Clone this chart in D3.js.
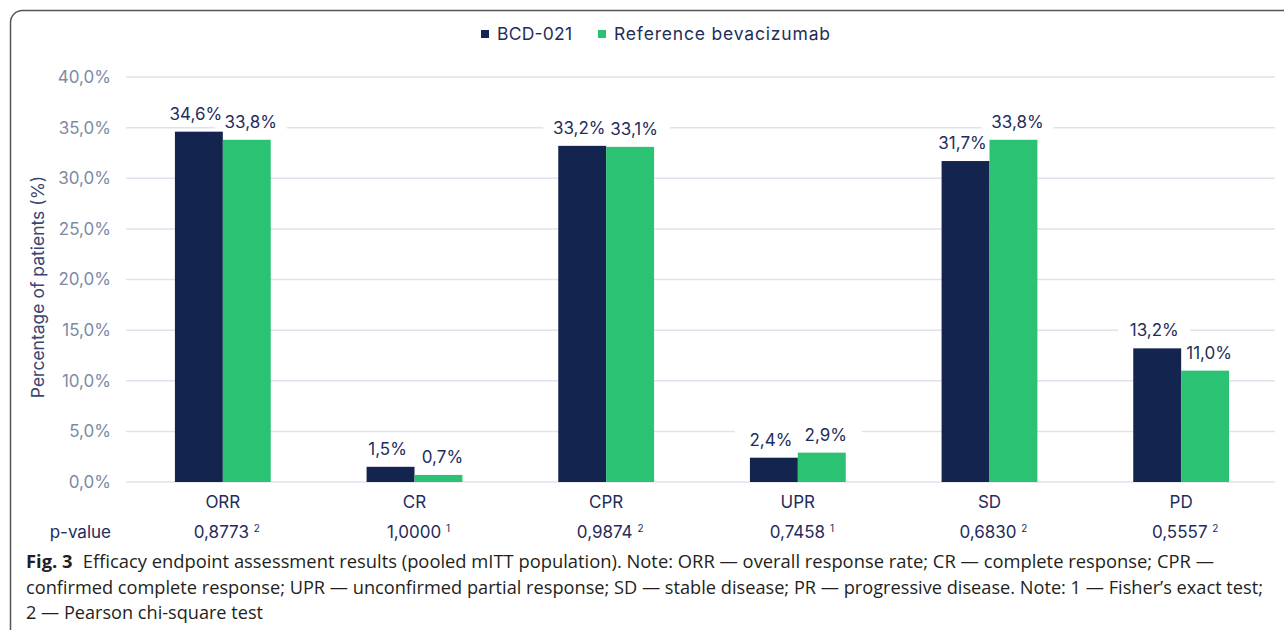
<!DOCTYPE html>
<html><head><meta charset="utf-8">
<script src="https://cdn.jsdelivr.net/npm/d3@7"></script>
<style>body{margin:0;background:#fff}svg{display:block}</style>
</head><body>
<svg id="c" width="1284" height="630"></svg>
<script>
const categories = ["ORR","CR","CPR","UPR","SD","PD"];
const seriesNames = ["BCD-021","Reference bevacizumab"];
const bcd021 = [34.6,1.5,33.2,2.4,31.7,13.2];
const reference = [33.8,0.7,33.1,2.9,33.8,11.0];
const pValues = ["0,8773","1,0000","0,9874","0,7458","0,6830","0,5557"];
const pNotes = ["2","1","2","1","2","2"];
const yTicks = [0,5,10,15,20,25,30,35,40];
const captionLines = [
 ["Fig. 3", "Efficacy endpoint assessment results (pooled mITT population). Note: ORR — overall response rate; CR — complete response; CPR —"],
 ["", "confirmed complete response; UPR — unconfirmed partial response; SD — stable disease; PR — progressive disease. Note: 1 — Fisher’s exact test;"],
 ["", "2 — Pearson chi-square test"]
];

const navy="#13244f", green="#2cc274", textNavy="#1f2d5c", tickGrey="#7d8aa5", gridC="#dfe3ec";
const font="Inter, 'Noto Sans', sans-serif";
const svg=d3.select("#c");
const fmt=v=>d3.format(".1f")(v).replace(".",",")+"%";

// border
svg.append("rect").attr("x",10.5).attr("y",10.5).attr("width",1320).attr("height",700)
 .attr("rx",12).attr("fill","none").attr("stroke","#555").attr("stroke-width",1.5);

const x0=d3.scaleBand().domain(categories).range([127,1277]).paddingInner(0.5).paddingOuter(0.25);
const x1=d3.scaleBand().domain(seriesNames).range([0,x0.bandwidth()]);
const y=d3.scaleLinear().domain([0,40]).range([482,77]);
const labelShift=d3.scaleOrdinal().domain(seriesNames).range([-3,4]);

// grid
svg.append("g").selectAll("line").data(yTicks).join("line")
 .attr("x1",126).attr("x2",1275).attr("y1",d=>y(d)).attr("y2",d=>y(d))
 .attr("stroke",gridC).attr("stroke-width",1.5);

// y tick labels
svg.append("g").selectAll("text").data(yTicks).join("text")
 .attr("x",111).attr("y",d=>y(d)).attr("dy","0.35em").attr("text-anchor","end")
 .attr("font-family",font).attr("font-size",17).attr("fill",tickGrey)
 .text(d=>d3.format(".1f")(d).replace(".",",")+"%");

// y title
svg.append("text").attr("transform","translate(44,287) rotate(-90)").attr("text-anchor","middle")
 .attr("font-family",font).attr("font-size",17.5).attr("fill","#3a4670").text("Percentage of patients (%)");

const rows=categories.map((c,i)=>({c,vals:[{s:seriesNames[0],v:bcd021[i]},{s:seriesNames[1],v:reference[i]}]}));
const colors=d3.scaleOrdinal().domain(seriesNames).range([navy,green]);

const g=svg.append("g").selectAll("g").data(rows).join("g").attr("transform",d=>`translate(${x0(d.c)},0)`);
// label backgrounds (break the gridlines)
g.selectAll("rect.bg").data(d=>d.vals).join("rect").attr("class","bg")
 .attr("x",d=>x1(d.s)+x1.bandwidth()/2+labelShift(d.s)-36).attr("width",72)
 .attr("y",d=>y(d.v)-32).attr("height",24).attr("fill","#fff");
g.selectAll("rect.bar").data(d=>d.vals).join("rect").attr("class","bar")
 .attr("x",d=>x1(d.s)).attr("width",x1.bandwidth()).attr("y",d=>y(d.v)).attr("height",d=>y(0)-y(d.v))
 .attr("fill",d=>colors(d.s));
g.selectAll("text").data(d=>d.vals).join("text")
 .attr("x",d=>x1(d.s)+x1.bandwidth()/2+labelShift(d.s)).attr("y",d=>y(d.v)-12).attr("text-anchor","middle")
 .attr("font-family",font).attr("font-size",17).attr("fill",textNavy).text(d=>fmt(d.v));

// category labels
svg.append("g").selectAll("text").data(categories).join("text")
 .attr("x",d=>x0(d)+x0.bandwidth()/2).attr("y",508).attr("text-anchor","middle")
 .attr("font-family",font).attr("font-size",17).attr("fill",textNavy).text(d=>d);

// p-values
svg.append("text").attr("x",111).attr("y",538).attr("text-anchor","end")
 .attr("font-family",font).attr("font-size",17).attr("fill",textNavy).text("p-value");
const pt=svg.append("g").selectAll("text").data(categories).join("text")
 .attr("x",d=>x0(d)+x0.bandwidth()/2+4).attr("y",538).attr("text-anchor","middle")
 .attr("font-family",font).attr("font-size",17).attr("fill",textNavy);
pt.append("tspan").text((d,i)=>pValues[i]+" ");
pt.append("tspan").attr("font-size",10).attr("dy",-6).text((d,i)=>pNotes[i]);

// legend
const lg=svg.append("g").attr("font-family",font).attr("font-size",17.5).attr("fill",textNavy);
const lx=[481,598];
const lw=[75,216];
seriesNames.forEach((s,i)=>{
  lg.append("rect").attr("x",lx[i]).attr("y",30).attr("width",8).attr("height",8).attr("fill",colors(s));
  lg.append("text").attr("x",lx[i]+16).attr("y",40).attr("textLength",lw[i]).attr("lengthAdjust","spacing").text(s);
});

// caption
const cap=svg.append("g").attr("font-family","'Open Sans', 'Noto Sans', sans-serif").attr("font-size",18).attr("fill","#231f20");
captionLines.forEach((l,i)=>{
  const t=cap.append("text").attr("x",26).attr("y",568+i*25.5);
  if(l[0]){
    t.append("tspan").attr("font-weight","bold").text(l[0]);
    t.append("tspan").attr("dx",10).text(l[1]);
  } else t.text(l[1]);
});
const capEnd=[1214,1263,263];
cap.selectAll("text").each(function(d,i){
  d3.select(this).attr("textLength",capEnd[i]-26).attr("lengthAdjust","spacingAndGlyphs");
});
</script>
</body></html>
